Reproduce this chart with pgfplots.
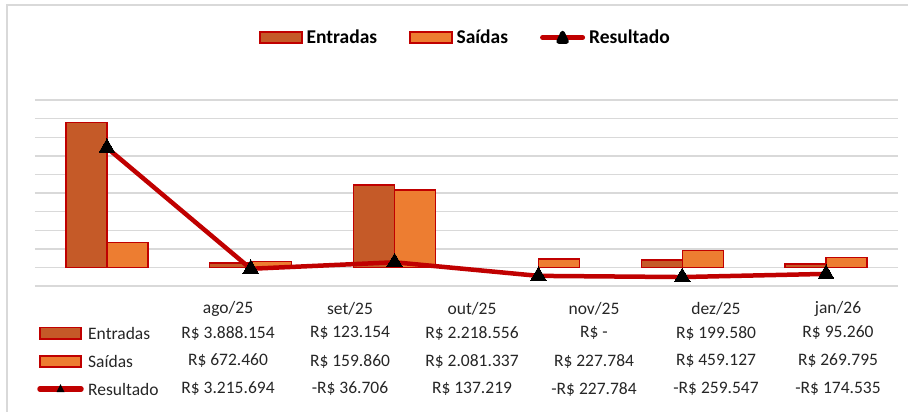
\documentclass[border=0pt]{standalone}
\usepackage{pgfplots}
\pgfplotsset{compat=1.18}
\usepackage{fontspec}
\setmainfont{Carlito}
\definecolor{entr}{HTML}{C55A28}
\definecolor{said}{HTML}{ED7D31}
\definecolor{dred}{HTML}{C00000}
\definecolor{gridg}{HTML}{D9D9D9}
\definecolor{txt}{HTML}{262626}
\newcommand{\tfont}{\fontsize{17.5}{20}\selectfont}
\begin{document}
\begin{tikzpicture}
\useasboundingbox (0pt,0pt) rectangle (911pt,-412pt);
% chart frame
\draw[gridg, line width=2pt] (7pt,-412pt) -- (7pt,-5pt) -- (908pt,-5pt);
\begin{axis}[
  at={(35pt,-286pt)}, anchor=south west,
  scale only axis, width=863pt, height=186pt,
  xmin=0.5, xmax=6.5, ymin=-500000, ymax=4500000,
  ytick={-500000,0,500000,1000000,1500000,2000000,2500000,3000000,3500000,4000000,4500000},
  scaled y ticks=false,
  yticklabels={}, xtick=\empty,
  major tick length=0pt,
  ymajorgrids, grid style={draw=gridg, line width=1.4pt},
  axis line style={draw=none},
  clip=false,
  legend columns=3,
  legend style={at={(axis description cs:0.5,1.336)}, anchor=center, draw=none, fill=none,
    font=\bfseries\fontsize{19.5}{22}\selectfont,
    /tikz/every even column/.append style={column sep=28pt},
    nodes={inner xsep=4pt, inner ysep=0pt}},
]
% Entradas (nov/25 = R$ 0, no visible bar)
\addplot[ybar, bar width=41pt, bar shift=-20.5pt, fill=entr, draw=dred, line width=1.4pt,
  legend image code/.code={\draw[fill=entr, draw=dred, line width=1.4pt] (0pt,-5.5pt) rectangle (42pt,5.5pt);}]
  coordinates {(1,3888154) (2,123154) (3,2218556) (5,199580) (6,95260)};
\addlegendentry{Entradas}
% Saídas
\addplot[ybar, bar width=41pt, bar shift=20.5pt, fill=said, draw=dred, line width=1.4pt,
  legend image code/.code={\draw[fill=said, draw=dred, line width=1.4pt] (0pt,-5.5pt) rectangle (42pt,5.5pt);}]
  coordinates {(1,672460) (2,159860) (3,2081337) (4,227784) (5,459127) (6,269795)};
\addlegendentry{Saídas}
% Resultado
\addplot[sharp plot, draw=dred, line width=4.5pt, line join=round,
  mark=triangle*, mark size=9pt, mark options={fill=black, draw=black, line width=0pt},
  legend image code/.code={\draw[dred, line width=5pt, line cap=round] (2pt,0pt) -- (42pt,0pt);
    \fill[black] (18pt,-4pt) -- (26pt,-4pt) -- (22pt,4.5pt) -- cycle;}]
  coordinates {(1,3215694) (2,-36706) (3,137219) (4,-227784) (5,-259547) (6,-174535)};
\addlegendentry{Resultado}
\end{axis}
% data table
\begin{scope}[every node/.style={font=\tfont, text=txt, inner sep=0pt}]
\foreach \x/\lab in {228/ago\slash25, 350/set\slash25, 472/out\slash25, 594/nov\slash25, 716/dez\slash25, 838/jan\slash26}
  {\node at (\x pt,-309pt) {\lab};}
% key column
\draw[fill=entr, draw=dred, line width=1.4pt] (40pt,-327.5pt) rectangle (81pt,-339pt);
\node[anchor=west] at (88pt,-333pt) {Entradas};
\draw[fill=said, draw=dred, line width=1.4pt] (40pt,-356pt) rectangle (81pt,-367pt);
\node[anchor=west] at (88pt,-361pt) {Saídas};
\draw[dred, line width=5.5pt, line cap=round] (40pt,-389pt) -- (81pt,-389pt);
\fill[black] (56.5pt,-392pt) -- (64.5pt,-392pt) -- (60.5pt,-384pt) -- cycle;
\node[anchor=west] at (88pt,-389pt) {Resultado};
% rows
\node at (228pt,-333pt) {R\$ 3.888.154};
\node at (350pt,-333pt) {R\$ 123.154};
\node at (472pt,-333pt) {R\$ 2.218.556};
\node at (594pt,-333pt) {R\$ -};
\node at (716pt,-333pt) {R\$ 199.580};
\node at (838pt,-333pt) {R\$ 95.260};
\node at (228pt,-361pt) {R\$ 672.460};
\node at (350pt,-361pt) {R\$ 159.860};
\node at (472pt,-361pt) {R\$ 2.081.337};
\node at (594pt,-361pt) {R\$ 227.784};
\node at (716pt,-361pt) {R\$ 459.127};
\node at (838pt,-361pt) {R\$ 269.795};
\node at (228pt,-389pt) {R\$ 3.215.694};
\node at (350pt,-389pt) {-R\$ 36.706};
\node at (472pt,-389pt) {R\$ 137.219};
\node at (594pt,-389pt) {-R\$ 227.784};
\node at (716pt,-389pt) {-R\$ 259.547};
\node at (838pt,-389pt) {-R\$ 174.535};
\end{scope}
\end{tikzpicture}
\end{document}
